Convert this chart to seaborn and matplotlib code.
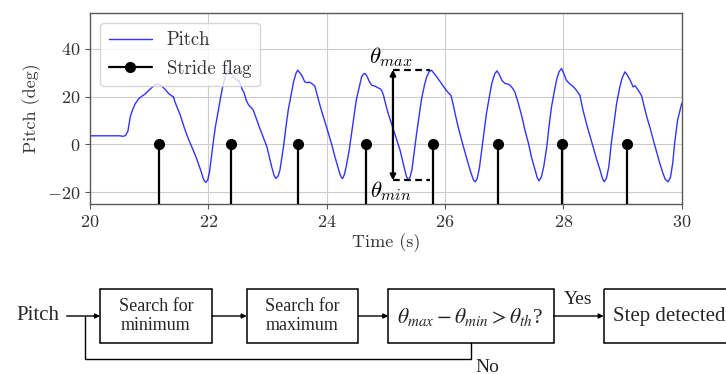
import numpy as np
import pandas as pd
import matplotlib
matplotlib.use("Agg")
import matplotlib.pyplot as plt
from matplotlib.lines import Line2D
from matplotlib.patches import Rectangle
import seaborn as sns

# ---------------- data ----------------
time_s = [20.00, 20.30, 20.50, 20.56, 20.60, 20.64, 20.68, 20.72, 20.76, 20.82, 20.88, 20.93, 20.98,
          21.04, 21.10, 21.15, 21.20, 21.27, 21.33, 21.38, 21.41, 21.44, 21.48, 21.52, 21.60, 21.66,
          21.72, 21.78, 21.83, 21.88, 21.91, 21.94, 21.96, 21.99, 22.02, 22.05, 22.08, 22.12, 22.17,
          22.21, 22.25, 22.29, 22.32, 22.35, 22.38, 22.42, 22.47, 22.52, 22.55, 22.58, 22.60, 22.64,
          22.68, 22.72, 22.76, 22.87, 22.99, 23.07, 23.11, 23.14, 23.18, 23.21, 23.27, 23.31, 23.35,
          23.44, 23.48, 23.51, 23.55, 23.58, 23.63, 23.67, 23.71, 23.75, 23.80, 23.83, 23.87, 23.91,
          23.97, 24.03, 24.09, 24.14, 24.19, 24.22, 24.25, 24.27, 24.30, 24.33, 24.38, 24.42, 24.46,
          24.50, 24.55, 24.59, 24.62, 24.65, 24.68, 24.72, 24.76, 24.82, 24.87, 24.90, 24.93, 24.96,
          25.00, 25.04, 25.13, 25.24, 25.32, 25.35, 25.38, 25.41, 25.44, 25.48, 25.52, 25.56, 25.60,
          25.65, 25.69, 25.73, 25.77, 25.81, 25.86, 25.90, 25.94, 25.98, 26.02, 26.06, 26.10, 26.13,
          26.17, 26.22, 26.28, 26.34, 26.39, 26.44, 26.48, 26.51, 26.54, 26.58, 26.62, 26.66, 26.70,
          26.75, 26.79, 26.84, 26.88, 26.92, 26.96, 27.01, 27.06, 27.10, 27.14, 27.18, 27.24, 27.30,
          27.35, 27.41, 27.46, 27.52, 27.56, 27.59, 27.63, 27.67, 27.72, 27.76, 27.80, 27.85, 27.89,
          27.93, 27.97, 28.01, 28.05, 28.10, 28.14, 28.18, 28.22, 28.28, 28.33, 28.39, 28.45, 28.50,
          28.56, 28.62, 28.66, 28.69, 28.73, 28.77, 28.81, 28.86, 28.90, 28.95, 28.99, 29.04, 29.08,
          29.13, 29.18, 29.21, 29.24, 29.28, 29.32, 29.37, 29.41, 29.47, 29.52, 29.58, 29.63, 29.68,
          29.72, 29.77, 29.81, 29.85, 29.88, 29.93, 30.00]
pitch_deg = [3.6, 3.6, 3.6, 3.4, 3.7, 5.5, 11.5, 14.5, 16.8, 19.0, 20.2, 21.0, 22.3,
             23.6, 24.9, 25.2, 24.6, 23.0, 21.2, 20.3, 19.9, 17.5, 15.0, 12.6, 6.5, 2.5,
             -1.0, -4.5, -7.9, -11.5, -14.0, -15.5, -15.8, -14.8, -11.5, -5.5, 0.4, 7.5, 14.3,
             20.0, 25.0, 28.5, 30.3, 31.0, 29.8, 28.2, 27.0, 26.5, 24.5, 22.5, 21.9, 18.5,
             16.5, 15.5, 14.3, 6.7, -1.0, -9.3, -12.8, -14.2, -13.2, -10.7, -1.0, 7.0, 14.3,
             26.1, 29.6, 31.0, 29.8, 28.8, 26.1, 25.8, 26.0, 25.4, 24.3, 21.5, 17.8, 14.3,
             9.5, 4.6, -0.5, -5.2, -9.5, -12.1, -13.9, -14.2, -12.5, -9.3, -2.5, 4.6, 12.0,
             18.5, 24.0, 28.2, 29.4, 29.6, 28.5, 26.3, 24.7, 24.3, 23.6, 23.3, 22.5, 20.5,
             16.5, 12.9, 6.0, -2.4, -10.7, -13.5, -14.9, -13.5, -10.7, -3.0, 4.6, 11.5, 18.5,
             24.5, 28.2, 30.3, 31.0, 29.8, 28.2, 26.8, 25.4, 24.0, 22.6, 21.5, 20.5, 17.5,
             12.9, 7.5, 1.8, -3.5, -7.9, -12.0, -14.8, -15.6, -14.5, -10.0, -2.4, 5.5, 12.9,
             20.0, 25.4, 29.5, 30.7, 29.0, 26.8, 25.5, 25.2, 24.7, 23.5, 21.9, 17.1, 11.5,
             6.0, 0.5, -5.2, -10.5, -14.0, -15.2, -13.5, -9.0, -1.0, 8.0, 15.7, 22.5, 27.5,
             30.5, 31.7, 29.5, 26.8, 25.5, 24.7, 23.8, 22.6, 20.5, 14.5, 8.7, 3.5, -1.0,
             -6.0, -10.7, -14.2, -15.6, -14.0, -9.0, 0.4, 9.5, 17.1, 23.5, 27.5, 30.3, 29.0,
             26.8, 24.0, 24.5, 23.6, 22.0, 20.5, 15.5, 11.5, 6.5, 1.8, -3.5, -7.9, -11.8,
             -14.5, -15.6, -13.8, -7.5, 0.4, 10.1, 17.1]
stride_times = [21.17, 22.38, 23.52, 24.66, 25.79, 26.90, 27.98, 29.07]
stride_flag = [0, 0, 0, 0, 0, 0, 0, 0]

theta_max = 31.2
theta_min = -15.0

x_ticks = [20, 22, 24, 26, 28, 30]
y_ticks = [-20, 0, 20, 40]

flow_steps = ["Search for\nminimum", "Search for\nmaximum"]

# ---------------- style ----------------
sns.set_style("whitegrid")
plt.rcParams.update({
    "font.family": ["cmr10", "DejaVu Serif"],
    "mathtext.fontset": "cm",
    "axes.formatter.use_mathtext": True,
    "axes.unicode_minus": True,
    "axes.edgecolor": "0.35",
    "axes.linewidth": 1.0,
    "grid.color": "0.8",
    "grid.linewidth": 0.8,
    "xtick.bottom": True,
    "ytick.left": True,
    "xtick.major.size": 3.5,
    "ytick.major.size": 3.5,
    "xtick.color": "0.35",
    "ytick.color": "0.35",
    "xtick.labelcolor": "0.2",
    "ytick.labelcolor": "0.2",
    "axes.labelcolor": "0.2",
})

fig = plt.figure(figsize=(7.26, 3.74), dpi=100)

# ---------------- flowchart (pixel coordinates) ----------------
fc = fig.add_axes([0, 0, 1, 1], zorder=0)
fc.set_xlim(0, 726)
fc.set_ylim(374, 0)
fc.axis("off")
fc.patch.set_alpha(0)

serif = "Liberation Serif"
ytop, ybot = 289, 342.7
ymid = 316
boxes = [(100, 211.7), (246.7, 358.3), (388.3, 553.7), (603.7, 745)]
for x0, x1 in boxes:
    fc.add_patch(Rectangle((x0, ytop), x1 - x0, ybot - ytop, fill=False,
                           edgecolor="black", lw=1.1, clip_on=False))

arrow_kw = dict(arrowstyle="-|>", color="black", lw=1.0, mutation_scale=7,
                shrinkA=0, shrinkB=0)
for xa, xb in [(66.7, 100), (211.7, 246.7), (358.3, 388.3), (553.7, 603.7)]:
    fc.annotate("", xy=(xb, ymid), xytext=(xa, ymid), arrowprops=arrow_kw)
fc.plot([471, 471, 85, 85], [ybot, 359, 359, ymid], color="black", lw=1.0)

fc.text(37.5, ymid, "Pitch", family=serif, fontsize=15, ha="center", va="center")
for (x0, x1), label in zip(boxes[:2], flow_steps):
    fc.text((x0 + x1) / 2, ymid, label, family=serif, fontsize=13, ha="center",
            va="center", linespacing=1.1)
fc.text(470, ymid + 1, r"$\theta_{max} - \theta_{min} > \theta_{th}$?", family=serif,
        math_fontfamily="stix", fontsize=15.5, ha="center", va="center")
fc.text(612.7, ymid, "Step detected", family=serif, fontsize=15, ha="left", va="center")
fc.text(578.5, 299, "Yes", family=serif, fontsize=14, ha="center", va="center")
fc.text(487, 367, "No", family=serif, fontsize=14, ha="center", va="center")

# ---------------- top chart ----------------
ax = fig.add_axes([90 / 726, 1 - 204.3 / 374, (681.7 - 90) / 726, (204.3 - 12.7) / 374], zorder=2)
df = pd.DataFrame({"Time (s)": time_s, "Pitch (deg)": pitch_deg})
sns.lineplot(data=df, x="Time (s)", y="Pitch (deg)", ax=ax, color="blue", alpha=0.8,
             lw=1.0, sort=False)
ax.vlines(stride_times, -40, stride_flag, color="black", lw=1.6, zorder=3)
ax.plot(stride_times, stride_flag, "o", color="black", ms=7, zorder=4)

ax.set_xlim(20, 30)
ax.set_ylim(-25, 55)
ax.set_xticks(x_ticks)
ax.set_yticks(y_ticks)
ax.tick_params(labelsize=13)
ax.set_xlabel("Time (s)", fontsize=13, labelpad=2)
ax.set_ylabel("Pitch (deg)", fontsize=13, labelpad=4)
ax.grid(True)

# annotation of theta_max / theta_min
xa, xd = 25.12, 25.74
ax.annotate("", xy=(xa, theta_max), xytext=(xa, theta_min),
            arrowprops=dict(arrowstyle="<|-|>", color="black", lw=1.6, mutation_scale=8,
                            shrinkA=0, shrinkB=0), zorder=5)
ax.plot([xa, xd], [theta_max, theta_max], ls=(0, (3, 2)), color="black", lw=1.6, zorder=5)
ax.plot([xa, xd], [theta_min, theta_min], ls=(0, (3, 2)), color="black", lw=1.6, zorder=5)
ax.text(25.09, 36.5, r"$\theta_{max}$", fontsize=16.5, ha="center", va="center", color="black")
ax.text(25.08, -19.5, r"$\theta_{min}$", fontsize=16.5, ha="center", va="center", color="black")

handles = [Line2D([], [], color="blue", alpha=0.8, lw=1.0),
           Line2D([], [], color="black", lw=1.6, marker="o", ms=7)]
leg = ax.legend(handles, ["Pitch", "Stride flag"], loc="upper left", fontsize=13.5,
                frameon=True, fancybox=True, framealpha=0.8, borderaxespad=0.55,
                borderpad=0.45, labelspacing=0.55, handletextpad=0.8, handlelength=2.3)
for t in leg.get_texts():
    t.set_color("0.2")

fig.savefig("out.png", dpi=100)
